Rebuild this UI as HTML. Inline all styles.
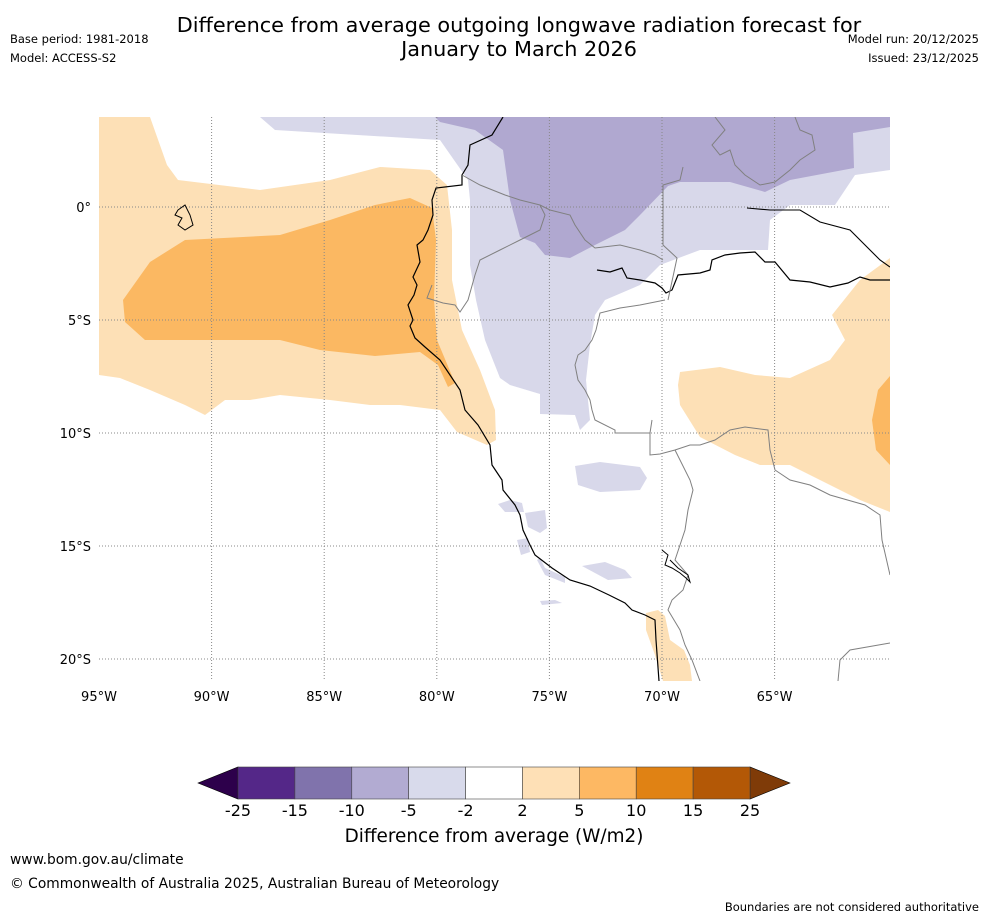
<!DOCTYPE html>
<html><head><meta charset="utf-8"><style>
body{margin:0;background:#fff;font-family:"DejaVu Sans","Liberation Sans",sans-serif;}
#wrap{position:relative;width:988px;height:919px;overflow:hidden;background:#fff}
.t{position:absolute;font-size:11.5px;color:#000;white-space:nowrap}
</style></head><body>
<div id="wrap">
<div class="t" style="left:25px;width:988px;text-align:center;top:13px;font-size:20.8px;line-height:24px">Difference from average outgoing longwave radiation forecast for<br>January to March 2026</div>
<div class="t" style="left:10px;top:32px">Base period: 1981-2018</div>
<div class="t" style="left:10px;top:51px">Model: ACCESS-S2</div>
<div class="t" style="right:9px;top:32px">Model run: 20/12/2025</div>
<div class="t" style="right:9px;top:51px">Issued: 23/12/2025</div>
<svg id="map" width="988" height="919" style="position:absolute;left:0;top:0">
<defs><clipPath id="clip"><rect x="99" y="117" width="791" height="564"/></clipPath></defs>
<g clip-path="url(#clip)">
<polygon fill="#fde0b6" points="99,117 150,117 167,165 178,180 260,190 330,180 380,167 430,170 447,185 452,230 452,280 462,330 480,370 495,410 496,440 487,445 457,432 440,410 400,405 370,405 330,400 280,395 250,400 225,400 205,415 185,405 150,390 120,378 99,375"/>
<polygon fill="#fbb862" points="123,300 150,262 185,240 280,235 330,220 375,205 410,198 432,208 436,240 434,300 437,340 455,383 448,387 438,365 420,352 375,356 320,350 280,340 200,340 145,340 125,322"/>
<polygon fill="#d8d8ea" points="260,117 890,117 890,170 855,175 835,205 790,205 770,220 768,250 700,250 660,265 640,285 605,300 595,315 590,345 586,380 590,420 580,430 575,415 540,414 540,394 510,385 500,378 485,340 476,300 470,265 470,200 468,180 440,140 275,130"/>
<polygon fill="#b0a8d0" points="435,117 890,117 890,127 853,133 854,168 790,180 765,192 730,182 680,182 668,186 640,215 625,230 595,245 570,258 545,255 535,243 520,237 510,200 503,150 475,130 440,122"/>
<polygon fill="#fde0b6" points="680,372 720,367 755,375 790,378 830,360 845,340 832,315 860,280 890,258 890,512 860,500 820,480 790,465 760,465 735,455 700,437 680,405 678,385"/>
<polygon fill="#fbb862" points="890,376 878,390 872,420 876,450 890,465"/>
<polygon fill="#d8d8ea" points="575,466 600,462 640,467 647,478 640,490 600,492 578,485"/>
<polygon fill="#d8d8ea" points="498,504 510,500 522,503 524,512 505,512"/>
<polygon fill="#d8d8ea" points="525,513 545,510 547,528 540,533 528,527"/>
<polygon fill="#d8d8ea" points="517,540 528,538 530,552 521,555"/>
<polygon fill="#d8d8ea" points="537,560 545,575 565,583 565,577 545,568 540,558"/>
<polygon fill="#d8d8ea" points="582,566 605,562 625,570 632,578 608,580"/>
<polygon fill="#d8d8ea" points="540,601 555,600 562,603 542,605"/>
<polygon fill="#fde0b6" points="646,613 658,610 665,616 670,640 684,650 690,665 692,681 663,681 655,655 646,630"/>
</g>
<g id="grid"></g>
<g clip-path="url(#clip)" fill="none">
<polyline stroke="#000" stroke-width="1.2" points="503,117 492,135 470,145 468,165 462,175 462,185 436,188 432,200 433,215 428,230 423,240 417,245 420,262 413,277 417,285 414,295 408,305 413,320 410,326 415,338 425,347 440,360 450,375 460,390 465,410 478,425 490,445 492,465 502,480 503,490 515,505 520,515 523,530 530,545 535,555 552,568 570,580 590,586 609,595 625,603 632,610 645,615 655,620 656,640 659,681"/>
<polyline stroke="#000" stroke-width="1.2" points="597,270 610,272 622,268 627,278 640,280 655,283 662,288 666,293 672,290 678,275 700,273 710,270 712,260 725,255 740,253 755,252 765,262 775,262 790,280 810,282 830,287 848,283 860,277 870,280 890,280"/>
<polyline stroke="#000" stroke-width="1.1" points="747,208 770,210 800,210 820,222 850,230 865,245 880,260 890,267"/>
<polyline stroke="#808080" stroke-width="1" points="462,175 480,185 505,195 520,200 540,205 550,210 570,215 575,225 585,240 595,248 620,245 640,250 655,255 663,260"/>
<polyline stroke="#808080" stroke-width="1" points="668,300 677,258 663,245 663,185 680,180 683,167"/>
<polyline stroke="#808080" stroke-width="1" points="715,117 725,130 712,145 720,155 730,150 735,165 745,175 760,185 775,182 790,170 800,160 815,150 812,135 800,130 795,117"/>
<polyline stroke="#808080" stroke-width="1" points="540,205 545,215 540,230 520,240 500,250 480,260 475,275 468,300 460,312 455,305 443,303 427,298 432,285"/>
<polyline stroke="#808080" stroke-width="1" points="665,300 640,305 620,308 600,313 596,330 592,340 585,350 578,355 575,365 578,380 585,390 590,400 592,410 595,420 615,430 615,433 650,433 652,420"/>
<polyline stroke="#808080" stroke-width="1" points="650,433 650,455 660,454 675,450 690,445 700,445 715,440 730,430 745,427 768,430 770,450 775,470 790,480 810,485 830,495 865,505 880,515 882,540 890,575"/>
<polyline stroke="#808080" stroke-width="1" points="675,450 690,480 693,490 688,510 685,530 680,545 675,560 688,575 683,590 672,600 668,610 680,630 685,645 692,660 700,681"/>
<polyline stroke="#808080" stroke-width="1" points="838,681 840,660 850,650 890,643"/>
<polyline stroke="#000" stroke-width="1" points="662,550 668,555 665,565 672,568 680,573 686,578 690,582 688,575 678,568 670,560"/>
<polygon stroke="#000" fill="none" points="178,210 185,205 190,215 193,225 185,230 178,225 182,218 175,215"/>
</g>
<g id="axislabels" font-size="13" font-family="DejaVu Sans, Liberation Sans, sans-serif"></g>
<g id="cbar"></g>
</svg>
<div class="t" style="left:0;width:988px;text-align:center;top:826px;font-size:18.4px">Difference from average (W/m2)</div>
<div class="t" style="left:10px;top:852px;font-size:13.8px">www.bom.gov.au/climate</div>
<div class="t" style="left:10px;top:876px;font-size:13.8px">© Commonwealth of Australia 2025, Australian Bureau of Meteorology</div>
<div class="t" style="right:9px;top:900px">Boundaries are not considered authoritative</div>
</div>
<script>
const lonTicks=[-95,-90,-85,-80,-75,-70,-65];
const lonLabels=["95°W","90°W","85°W","80°W","75°W","70°W","65°W"];
const latTicks=[0,-5,-10,-15,-20];
const latLabels=["0°","5°S","10°S","15°S","20°S"];
const levels=["-25","-15","-10","-5","-2","2","5","10","15","25"];
const levelColors=["#542788","#8073ac","#b2abd2","#d8daeb","#ffffff","#fee0b6","#fdb863","#e08214","#b35806"];
const NS="http://www.w3.org/2000/svg";
function xLon(l){return 99+(l+95)*22.52;}
function yLat(l){return 207-l*22.6;}
const grid=document.getElementById('grid'),ax=document.getElementById('axislabels'),cb=document.getElementById('cbar');
function mk(tag,at,p){const e=document.createElementNS(NS,tag);for(const k in at)e.setAttribute(k,at[k]);p.appendChild(e);return e;}
lonTicks.forEach((l,i)=>{
 const x=xLon(l);
 if(i>0){const g=mk('line',{x1:x,x2:x,y1:117,y2:681,stroke:'#888','stroke-width':1,'stroke-dasharray':'1,2'},grid);
 
 }
 const t=mk('text',{x:x,y:701,'text-anchor':'middle'},ax);t.textContent=lonLabels[i];
 
 
});
latTicks.forEach((l,i)=>{
 const y=yLat(l);
 const g=mk('line',{x1:99,x2:890,y1:y,y2:y,stroke:'#888','stroke-width':1,'stroke-dasharray':'1,2'},grid);
 
 
 const t=mk('text',{x:91,y:y+5,'text-anchor':'end'},ax);t.textContent=latLabels[i];
 
 
});
const cx0=238,cw=(750-238)/levelColors.length,cy=767,ch=32;
const la=mk('polygon',{points:`198,${cy+ch/2} ${cx0},${cy} ${cx0},${cy+ch}`,fill:'#2d004b',stroke:'#000','stroke-width':0.6},cb);


const ra=mk('polygon',{points:`790,${cy+ch/2} 750,${cy} 750,${cy+ch}`,fill:'#7f3b08',stroke:'#000','stroke-width':0.6},cb);


levelColors.forEach((c,i)=>{
 const r=mk('rect',{x:cx0+i*cw,y:cy,width:cw,height:ch,fill:c,stroke:'#444','stroke-width':0.6},cb);
 
 
});
levels.forEach((s,i)=>{
 const t=mk('text',{x:cx0+i*cw,y:816,'text-anchor':'middle','font-size':16,'font-family':'DejaVu Sans, Liberation Sans, sans-serif'},cb);t.textContent=s;
 
 
});
</script>
</body></html>
